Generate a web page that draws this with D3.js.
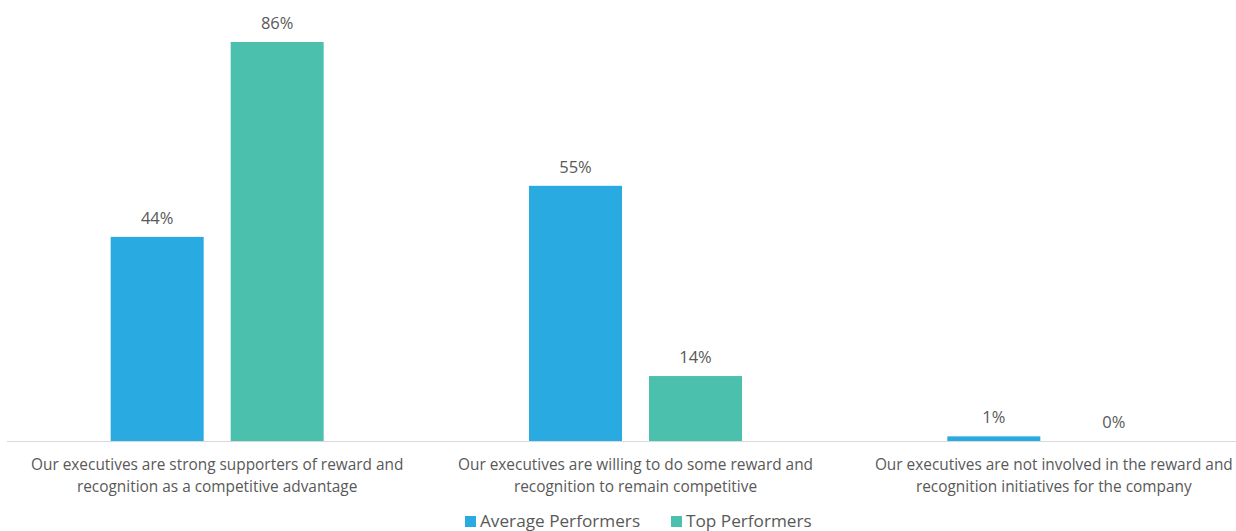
<!DOCTYPE html>
<html><head><meta charset="utf-8">
<script src="https://cdn.jsdelivr.net/npm/d3@7"></script>
<style>body{margin:0;background:#fff}text{font-family:"Open Sans",sans-serif}</style>
</head><body><svg id="c" width="1236" height="531"></svg>
<script>
const categories = [
  ["Our executives are strong supporters of reward and","recognition as a competitive advantage"],
  ["Our executives are willing to do some reward and","recognition to remain competitive"],
  ["Our executives are not involved in the reward and","recognition initiatives for the company"]
];
const seriesNames = ["Average Performers","Top Performers"];
const averageValues = [44, 55, 1];
const topValues = [86, 14, 0];
const colors = ["#29ABE2","#4BC0AD"];

const svg = d3.select("#c");
const x0 = d3.scaleBand().domain(d3.range(categories.length)).range([8, 1263]).paddingInner(0).paddingOuter(0);
const x1 = d3.scaleBand().domain([0,1]).range([x0.bandwidth()/2-106.5, x0.bandwidth()/2+106.5]).paddingInner(0.225);
const y = d3.scaleLinear().domain([0, 86]).range([441, 42]);

const data = categories.map((c,i)=>({i, vals:[averageValues[i], topValues[i]]}));
const g = svg.selectAll("g.grp").data(data).join("g").attr("transform", d=>`translate(${x0(d.i)},0)`);
g.selectAll("rect").data(d=>d.vals.map((v,s)=>({v,s}))).join("rect")
  .attr("x", d=>x1(d.s)).attr("width", x1.bandwidth())
  .attr("y", d=>y(d.v)).attr("height", d=>y(0)-y(d.v)).attr("fill", d=>colors[d.s]);
g.selectAll("text.val").data(d=>d.vals.map((v,s)=>({v,s}))).join("text").attr("class","val")
  .attr("x", d=>x1(d.s)+x1.bandwidth()/2).attr("y", d=>y(d.v)-13)
  .attr("text-anchor","middle").attr("font-size",16.5).attr("fill","#595959").text(d=>d.v+"%");

svg.append("line").attr("x1",7).attr("x2",1236).attr("y1",441.5).attr("y2",441.5).attr("stroke","#D9D9D9").attr("stroke-width",1);

const lab = svg.selectAll("text.cat").data(categories).join("text").attr("class","cat")
  .attr("text-anchor","middle").attr("font-size",15.4).attr("fill","#595959");
lab.selectAll("tspan").data((d,i)=>d.map(t=>({t,i}))).join("tspan")
  .attr("x", d=>x0(d.i)+x0.bandwidth()/2).attr("y",(d,j)=>470+j*22).text(d=>d.t);

const leg = svg.append("g");
const legX = [465, 671];
seriesNames.forEach((n,s)=>{
  leg.append("rect").attr("x",legX[s]).attr("y",516).attr("width",11).attr("height",11).attr("fill",colors[s]);
  leg.append("text").attr("x",legX[s]+15).attr("y",527).attr("font-size",17.2).attr("fill","#595959").text(n);
});
</script></body></html>
